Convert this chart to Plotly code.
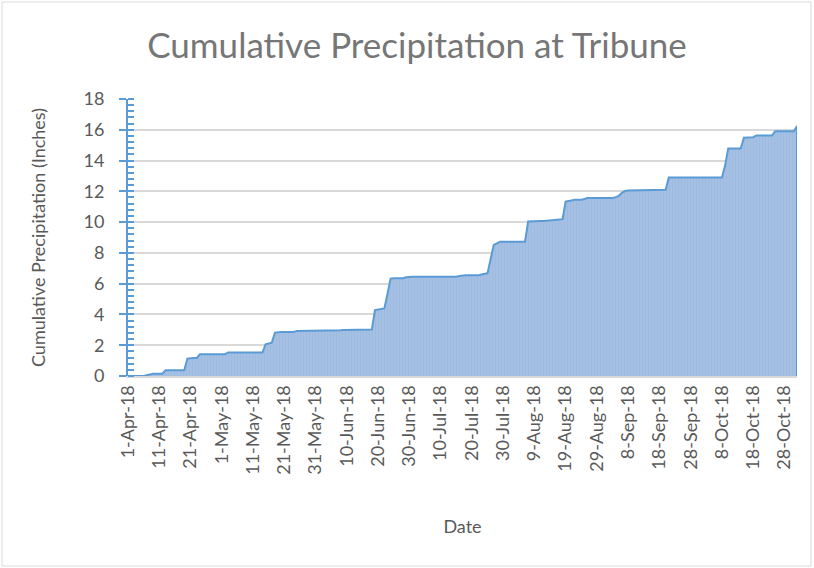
import pandas as pd
import plotly.graph_objects as go

# Cumulative precipitation (inches), one value per day, 1-Apr-2018 .. 1-Nov-2018
apr = [0, 0, 0, 0, 0, 0, 0.05, 0.12, 0.15, 0.15,
       0.15, 0.15, 0.37, 0.37, 0.37, 0.37, 0.37, 0.37, 0.37, 1.13,
       1.17, 1.17, 1.17, 1.41, 1.41, 1.41, 1.41, 1.41, 1.41, 1.41]
may = [1.41, 1.41, 1.52, 1.52, 1.52, 1.52, 1.52, 1.52, 1.52, 1.52,
       1.52, 1.52, 1.52, 1.52, 2.06, 2.10, 2.17, 2.82, 2.86, 2.86,
       2.86, 2.86, 2.86, 2.86, 2.93, 2.93, 2.93, 2.93, 2.97, 2.97, 2.97]
jun = [2.97, 2.97, 2.97, 2.97, 2.97, 2.97, 2.97, 2.97, 2.99, 2.99,
       2.99, 2.99, 2.99, 2.99, 2.99, 2.99, 2.99, 3.02, 4.28, 4.33,
       4.33, 4.39, 5.33, 6.33, 6.35, 6.35, 6.35, 6.35, 6.42, 6.45]
jul = [6.45, 6.45, 6.45, 6.45, 6.45, 6.45, 6.45, 6.45, 6.45, 6.45,
       6.45, 6.45, 6.45, 6.45, 6.45, 6.50, 6.54, 6.54, 6.54, 6.54,
       6.54, 6.54, 6.60, 6.64, 6.67, 7.60, 8.52, 8.62, 8.73, 8.73, 8.73]
aug = [8.73, 8.73, 8.73, 8.73, 8.73, 8.73, 10.04, 10.06, 10.08, 10.08,
       10.08, 10.08, 10.10, 10.12, 10.12, 10.12, 10.15, 10.19, 11.34, 11.38,
       11.41, 11.45, 11.45, 11.45, 11.50, 11.56, 11.56, 11.56, 11.56, 11.56, 11.56]
sep = [11.56, 11.56, 11.56, 11.62, 11.71, 11.90, 12.02, 12.06, 12.06, 12.06,
       12.06, 12.06, 12.06, 12.06, 12.10, 12.10, 12.10, 12.10, 12.10, 12.10,
       12.90, 12.90, 12.90, 12.90, 12.90, 12.90, 12.90, 12.90, 12.90, 12.90]
octo = [12.90, 12.90, 12.90, 12.90, 12.90, 12.90, 12.90, 12.90, 13.67, 14.78,
        14.78, 14.78, 14.78, 14.78, 15.48, 15.50, 15.50, 15.52, 15.63, 15.63,
        15.63, 15.63, 15.63, 15.63, 15.91, 15.91, 15.91, 15.91, 15.91, 15.91, 15.91]
nov = [16.24]

cumulative = apr + may + jun + jul + aug + sep + octo + nov
dates = list(pd.date_range("2018-04-01", periods=len(cumulative), freq="D"))

tick_labels = ["1-Apr-18", "11-Apr-18", "21-Apr-18", "1-May-18", "11-May-18",
               "21-May-18", "31-May-18", "10-Jun-18", "20-Jun-18", "30-Jun-18",
               "10-Jul-18", "20-Jul-18", "30-Jul-18", "9-Aug-18", "19-Aug-18",
               "29-Aug-18", "8-Sep-18", "18-Sep-18", "28-Sep-18", "8-Oct-18",
               "18-Oct-18", "28-Oct-18"]
tick_dates = [pd.to_datetime(t, format="%d-%b-%y") for t in tick_labels]

title_text = "Cumulative Precipitation at Tribune"
y_title = "Cumulative Precipitation (Inches)"
x_title = "Date"

FONT = "Lato, 'Open Sans', sans-serif"
GRAY = "#595959"
BLUE = "#5B9BD5"

fig = go.Figure()
fig.add_trace(go.Scatter(
    x=dates + [dates[-1]],
    y=cumulative + [0],
    mode="lines",
    line=dict(color=BLUE, width=2),
    fill="tozeroy",
    fillcolor="#A3BFE4",
    fillpattern=dict(shape="|", size=3, solidity=0.25,
                     fgcolor="#8EAFDB", bgcolor="#A6C0E4"),
    hoverinfo="x+y",
    showlegend=False,
))

W, H = 814, 568
L, R, T, B = 128, 17, 99, 192
pw, ph = W - L - R, H - T - B

fig.update_layout(
    width=W, height=H,
    margin=dict(l=L, r=R, t=T, b=B, autoexpand=False),
    paper_bgcolor="white",
    plot_bgcolor="white",
    font=dict(family=FONT, color=GRAY, size=18),
    title=dict(text=title_text, x=417 / W, xanchor="center",
               y=1 - 46 / H, yanchor="middle", yref="container",
               font=dict(family=FONT, size=35, color="#767676")),
    xaxis=dict(
        type="date",
        range=[dates[0], dates[-1]],
        tickmode="array", tickvals=tick_dates, ticktext=tick_labels,
        tickangle=-90,
        tickfont=dict(size=18, color=GRAY),
        showgrid=False, zeroline=False,
        showline=True, linecolor="#D9D9D9", linewidth=2,
        ticks="",
        title=dict(text=x_title, font=dict(size=18, color=GRAY), standoff=47),
        automargin=False,
    ),
    yaxis=dict(
        range=[0, 18], dtick=2, tick0=0,
        tickfont=dict(size=18, color=GRAY),
        showgrid=True, gridcolor="#D9D9D9", gridwidth=1.5,
        zeroline=False,
        showline=True, linecolor=BLUE, linewidth=2,
        ticks="outside", ticklen=7, tickcolor=BLUE, tickwidth=2,
        ticklabelstandoff=11,
        minor=dict(dtick=0.4, ticks="inside", ticklen=6, tickcolor=BLUE,
                   tickwidth=2, showgrid=False),
        title=dict(text=y_title, font=dict(size=18, color=GRAY), standoff=33),
        automargin=False,
    ),
    shapes=[dict(type="rect", xref="paper", yref="paper",
                 x0=(2 - L) / pw, x1=(811 - L) / pw,
                 y0=(H - B - 566) / ph, y1=(H - B - 2) / ph,
                 line=dict(color="#D9D9D9", width=1), layer="below")],
)

fig.write_html("out.html",
               config={"displayModeBar": False},
               post_script="document.body.style.margin='0';"
                           "document.body.style.overflow='hidden';")
